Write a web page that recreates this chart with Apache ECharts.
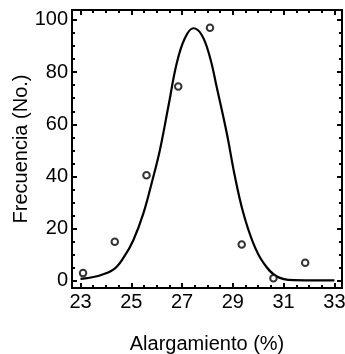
<!DOCTYPE html>
<html>
<head>
<meta charset="utf-8">
<script src="https://cdn.jsdelivr.net/npm/echarts@6/dist/echarts.min.js"></script>
<style>html,body{margin:0;padding:0;background:#fff;}#c{width:345px;height:354px;}</style>
</head>
<body>
<div id="c"></div>
<script>
const xTickLabels = [23, 25, 27, 29, 31, 33];
const yTickLabels = [0, 20, 40, 60, 80, 100];
const histX = [23.1, 24.35, 25.6, 26.85, 28.1, 29.35, 30.6, 31.85];
const histY = [3, 15, 40.5, 74.5, 97, 14, 1, 7];
const curveX = [23.0, 23.64, 24.29, 24.72, 25.08, 25.48, 25.83, 26.13, 26.46, 26.79, 27.11, 27.44, 27.77, 28.09, 28.36, 28.76, 29.08, 29.41, 29.80, 30.20, 30.72, 31.38, 32.43, 33.0];
const curveY = [0.8, 1.8, 4.3, 9.3, 15.6, 26.0, 38.5, 50.3, 66.8, 83.4, 93.0, 96.8, 94.3, 86.0, 74.5, 56.7, 40.1, 26.1, 14.6, 7.0, 1.8, 0.3, 0.2, 0.2];

const X_MIN = 22.665, X_MAX = 33.3, Y_MIN = -2.7, Y_MAX = 103.8;
const xMinor = [];
for (let v = 23; v <= 33.001; v += 0.5) { const r = Math.round(v*10)/10; if (!xTickLabels.includes(r)) xMinor.push(r); }
const yMinor = [];
for (let v = 0; v <= 100; v += 5) { if (!yTickLabels.includes(v)) yMinor.push(v); }

const font = "'Liberation Sans', Arial, sans-serif";
const FS = 20;
function xAx(pos, ticks, len, labels, name) {
  return {
    type: 'value', position: pos, min: X_MIN, max: X_MAX,
    axisLine: { show: false, onZero: false },
    splitLine: { show: false },
    axisTick: { show: true, inside: true, length: len, customValues: ticks, lineStyle: { color: '#000', width: 2 } },
    axisLabel: labels ? { show: true, customValues: ticks, color: '#000', fontSize: FS, fontFamily: font, margin: 4 } : { show: false },
    name: name || '', nameLocation: 'middle', nameGap: 46,
    nameTextStyle: { color: '#000', fontSize: FS, fontFamily: font }
  };
}
function yAx(pos, ticks, len, labels, name) {
  return {
    type: 'value', position: pos, min: Y_MIN, max: Y_MAX,
    axisLine: { show: false, onZero: false },
    splitLine: { show: false },
    axisTick: { show: true, inside: true, length: len, customValues: ticks, lineStyle: { color: '#000', width: 2 } },
    axisLabel: labels ? { show: true, customValues: ticks, color: '#000', fontSize: FS, fontFamily: font, margin: 4 } : { show: false },
    name: name || '', nameLocation: 'middle', nameGap: 41, nameMoveOverlap: false,
    nameTextStyle: { color: '#000', fontSize: FS, fontFamily: font }
  };
}

const chart = echarts.init(document.getElementById('c'), null, { renderer: 'canvas' });
chart.setOption({
  animation: false,
  backgroundColor: '#fff',
  grid: { left: 72, right: 3, top: 10, bottom: 66, outerBoundsMode: 'none', containLabel: false, show: true, borderColor: '#000', borderWidth: 2, backgroundColor: 'transparent' },
  xAxis: [
    xAx('bottom', xTickLabels, 5, true, 'Alargamiento (%)'),
    xAx('bottom', xMinor, 3, false),
    xAx('top', xTickLabels, 5, false),
    xAx('top', xMinor, 3, false)
  ],
  yAxis: [
    yAx('left', yTickLabels, 5, true, 'Frecuencia (No.)'),
    yAx('left', yMinor, 3, false),
    yAx('right', yTickLabels, 5, false),
    yAx('right', yMinor, 3, false)
  ],
  series: [
    {
      type: 'line', xAxisIndex: 0, yAxisIndex: 0,
      data: curveX.map((x, i) => [x, curveY[i]]),
      smooth: 0.4, showSymbol: false, symbol: 'none',
      lineStyle: { color: '#000', width: 2.2 }, z: 3
    },
    {
      type: 'scatter', xAxisIndex: 0, yAxisIndex: 0,
      data: histX.map((x, i) => [x, histY[i]]),
      symbol: 'circle', symbolSize: 6.5,
      itemStyle: { color: '#fff', borderColor: '#000', borderWidth: 2 }, z: 4
    }
  ]
});
</script>
</body>
</html>
